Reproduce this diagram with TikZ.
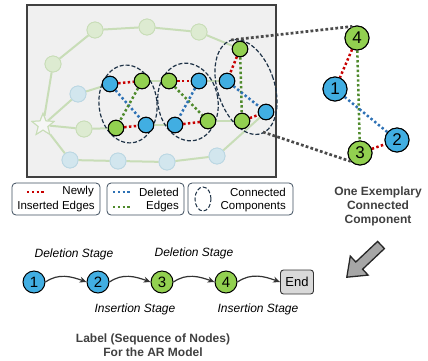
\documentclass[tikz,border=0pt]{standalone}
\usepackage{fontspec}
\setmainfont{Liberation Sans}
\usetikzlibrary{shapes.geometric,arrows.meta}

\definecolor{nodeblue}{HTML}{41AEE2}
\definecolor{nodegreen}{HTML}{92D050}
\definecolor{fadegreen}{HTML}{DDEBD1}
\definecolor{fadegreenline}{HTML}{C8DDB7}
\definecolor{fadeblue}{HTML}{D2E6EE}
\definecolor{fadeblueline}{HTML}{BBD7E3}
\definecolor{edgered}{HTML}{C80000}
\definecolor{edgeblue}{HTML}{2E72B5}
\definecolor{edgegreen}{HTML}{4F8A2C}
\definecolor{panelbg}{HTML}{F0F0F0}
\definecolor{panelline}{HTML}{404040}
\definecolor{compline}{HTML}{1E3246}
\definecolor{legendline}{HTML}{3E4E5E}
\definecolor{captiongray}{HTML}{404040}
\definecolor{zoomgray}{HTML}{4A4A4A}
\definecolor{endgray}{HTML}{D9D9D9}
\definecolor{arrowgray}{HTML}{A6A6A6}

\tikzset{
  fadedge/.style={draw=fadegreenline, line width=2pt},
  fadeg/.style={circle, minimum size=16pt, inner sep=0pt, fill=fadegreen, draw=fadegreenline, line width=0.8pt},
  fadeb/.style={circle, minimum size=16pt, inner sep=0pt, fill=fadeblue, draw=fadeblueline, line width=0.8pt},
  startnode/.style={star, star points=5, star point ratio=2.3, minimum size=23pt, inner sep=0pt,
      fill=panelbg!60!white, draw=fadegreenline, line width=1pt},
  cg/.style={circle, minimum size=15.5pt, inner sep=0pt, fill=nodegreen, draw=black, line width=1pt},
  cb/.style={circle, minimum size=15.5pt, inner sep=0pt, fill=nodeblue, draw=black, line width=1pt},
  rg/.style={circle, minimum size=24pt, inner sep=0pt, fill=nodegreen, draw=black, line width=1pt, font=\fontsize{17}{17}\selectfont},
  rb/.style={circle, minimum size=24pt, inner sep=0pt, fill=nodeblue, draw=black, line width=1pt, font=\fontsize{17}{17}\selectfont},
  sg/.style={circle, minimum size=22pt, inner sep=0pt, fill=nodegreen, draw=black, line width=1pt, font=\fontsize{15}{15}\selectfont},
  sb/.style={circle, minimum size=22pt, inner sep=0pt, fill=nodeblue, draw=black, line width=1pt, font=\fontsize{15}{15}\selectfont},
  dotline/.style={line width=2.5pt, dash pattern=on 2.4pt off 2.4pt},
  ins/.style={dotline, draw=edgered},
  del/.style={dotline, draw=edgeblue},
  delg/.style={dotline, draw=edgegreen},
  comp/.style={draw=compline, line width=1.2pt, dash pattern=on 4pt off 2pt},
  zoomline/.style={draw=zoomgray, line width=2.7pt, dash pattern=on 2.8pt off 2.2pt},
  legendbox/.style={draw=legendline, line width=0.8pt, fill=white, rounded corners=4pt},
  legendtext/.style={font=\fontsize{11.5}{13}\selectfont, inner sep=0pt},
  stagetext/.style={font=\fontsize{12}{14}\itshape, inner sep=0pt},
  captext/.style={font=\fontsize{12}{14}\bfseries, text=captiongray, inner sep=0pt, align=center},
  seqarrow/.style={draw=black!80, line width=1.2pt, -{Stealth[length=7pt,width=6pt]}},
}

\begin{document}
\begin{tikzpicture}[x=1pt,y=-1pt]
\useasboundingbox (0,0) rectangle (428,360);

% graph panel
\draw[fill=panelbg, draw=panelline, line width=1.5pt] (27,5) rectangle (276,177);

% faded background graph
\node[startnode] (st) at (43,125) {};
\node[fadeg] (g1) at (53,64) {};
\node[fadeg] (g2) at (95,30) {};
\node[fadeg] (g3) at (147,27) {};
\node[fadeg] (g4) at (199,32) {};
\node[fadeb] (b1) at (78,94) {};
\node[fadeg] (g5) at (84,129) {};
\node[fadeb] (b2) at (70,160) {};
\node[fadeb] (b3) at (118,161) {};
\node[fadeb] (b4) at (167,162) {};
\node[fadeb] (b5) at (217,156) {};

% components (bold nodes)
\node[cb] (c1a) at (110,84) {};
\node[cg] (c1b) at (142,81) {};
\node[cg] (c1c) at (116,128) {};
\node[cb] (c1d) at (146,125) {};
\node[cg] (c2a) at (169,81) {};
\node[cb] (c2b) at (199,81) {};
\node[cb] (c2c) at (175,125) {};
\node[cg] (c2d) at (208,121) {};
\node[cg] (c3a) at (240,49) {};
\node[cb] (c3b) at (227,81) {};
\node[cg] (c3c) at (242,121) {};
\node[cb] (c3d) at (266,112) {};

\path[fadedge] (st) -- (g1) -- (g2) -- (g3) -- (g4) -- (c3a);
\path[fadedge] (st) -- (b1) -- (c1a);
\path[fadedge] (st) -- (g5) -- (c1c);
\path[fadedge] (st) -- (b2) -- (b3) -- (b4) -- (b5) -- (c3d);
\path[fadedge] (c1b) -- (c2a);
\path[fadedge] (c1d) -- (c2c);
\path[fadedge] (c2b) -- (c3b);
\path[fadedge] (c2d) -- (c3c);

% redraw faded nodes and star above their edges
\node[startnode] at (43,125) {};
\foreach \p in {(53,64),(95,30),(147,27),(199,32),(84,129)}
  \node[fadeg] at \p {};
\foreach \p in {(78,94),(70,160),(118,161),(167,162),(217,156)}
  \node[fadeb] at \p {};

% component outlines
\draw[comp, rotate around={6:(128,104)}] (128,104) ellipse [x radius=29pt, y radius=39pt];
\draw[comp, rotate around={9:(188,102)}] (188,102) ellipse [x radius=30pt, y radius=39pt];
\draw[comp, rotate around={18:(246,87)}] (246,87) ellipse [x radius=28.5pt, y radius=49pt];

% edges inside the components
\draw[ins] (c1a) -- (c1b);
\draw[del] (c1a) -- (c1d);
\draw[delg] (c1b) -- (c1c);
\draw[ins] (c1c) -- (c1d);
\draw[ins] (c2a) -- (c2b);
\draw[delg] (c2a) -- (c2d);
\draw[del] (c2b) -- (c2c);
\draw[ins] (c2c) -- (c2d);
\draw[ins] (c3a) -- (c3b);
\draw[delg] (c3a) -- (c3c);
\draw[del] (c3b) -- (c3d);
\draw[ins] (c3c) -- (c3d);

% bold nodes on top of the edges
\foreach \p in {(110,84),(146,125),(199,81),(175,125),(227,81),(266,112)}
  \node[cb] at \p {};
\foreach \p in {(142,81),(116,128),(169,81),(208,121),(240,49),(242,121)}
  \node[cg] at \p {};

% enlarged component
\node[rg] (r4) at (357,38) {4};
\node[rb] (r1) at (335,89) {1};
\node[rb] (r2) at (397,140) {2};
\node[rg] (r3) at (360,153) {3};
\draw[ins] (r4) -- (r1);
\draw[delg] (r4) -- (r3);
\draw[del] (r1) -- (r2);
\draw[ins] (r3) -- (r2);
\node[rg] at (357,38) {4};
\node[rb] at (335,89) {1};
\node[rb] at (397,140) {2};
\node[rg] at (360,153) {3};

\coordinate (zt) at (231,40);
\coordinate (zb) at (263,132);
\draw[zoomline] (zt) -- (r4.112);
\draw[zoomline] (zb) -- (r3.222);

\node[captext] (cap1) at (378,206) {One Exemplary\\Connected\\Component};

% legend
\draw[legendbox] (12,183) rectangle (100,215);
\draw[ins] (27,192) -- (46,192);
\node[legendtext, anchor=east] (lg1) at (94,192) {Newly};
\node[legendtext] (lg2) at (56,207) {Inserted Edges};

\draw[legendbox] (107,183) rectangle (184,215);
\draw[del] (113,192) -- (130,192);
\draw[delg] (113,207) -- (130,207);
\node[legendtext, anchor=east] (lg3) at (179,192) {Deleted};
\node[legendtext, anchor=east] (lg4) at (179,207) {Edges};

\draw[legendbox] (188,183) rectangle (293,215);
\draw[comp, line width=1pt] (203,199) ellipse [x radius=8pt, y radius=12pt];
\node[legendtext, anchor=east] (lg5) at (286,192) {Connected};
\node[legendtext, anchor=east] (lg6) at (286,207) {Components};

% block arrow
\draw[fill=arrowgray, draw=black!85, line width=1.3pt, line join=miter]
  (377.6,241.4) -- (384.4,248.6) -- (362.6,269.2) -- (368.1,275.1)
  -- (346.8,277.2) -- (350.3,256.1) -- (355.8,262.0) -- cycle;

% node sequence
\node[sb] (s1) at (34,282) {1};
\node[sb] (s2) at (98,282) {2};
\node[sg] (s3) at (162,282) {3};
\node[sg] (s4) at (226,282) {4};
\node[draw=black!80, fill=endgray, line width=0.9pt, rounded corners=3pt,
      minimum width=33pt, minimum height=24pt, inner sep=0pt,
      font=\fontsize{13}{13}\selectfont] (se) at (297,282) {End};
\draw[seqarrow] (s1.east) to[out=35,in=160] (s2.west);
\draw[seqarrow] (s2.east) to[out=35,in=160] (s3.west);
\draw[seqarrow] (s3.east) to[out=35,in=160] (s4.west);
\draw[seqarrow] (s4.east) to[out=35,in=160] (se.west);

\node[stagetext] (d1) at (74,254) {Deletion Stage};
\node[stagetext] (d2) at (194,253) {Deletion Stage};
\node[stagetext] (i1) at (135,309) {Insertion Stage};
\node[stagetext] (i2) at (258,309) {Insertion Stage};

\node[captext] (cap2) at (153,345) {Label (Sequence of Nodes)\\For the AR Model};
\end{tikzpicture}
\end{document}
